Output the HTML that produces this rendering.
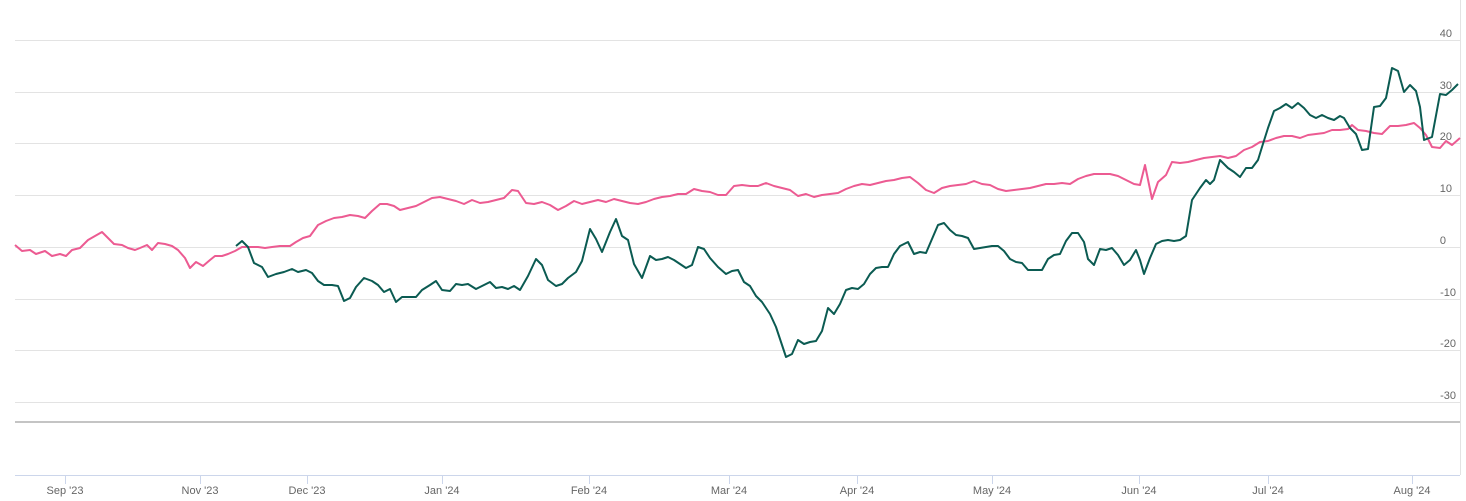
<!DOCTYPE html><html><head><style>body{margin:0;background:#fff}svg{display:block;font-family:"Liberation Sans",sans-serif}</style></head><body>
<svg width="1466" height="501" viewBox="0 0 1466 501">
<g stroke="#e3e3e3" stroke-width="1">
<line x1="15" x2="1460" y1="40.5" y2="40.5"/><line x1="15" x2="1460" y1="92.5" y2="92.5"/><line x1="15" x2="1460" y1="143.5" y2="143.5"/><line x1="15" x2="1460" y1="195.5" y2="195.5"/><line x1="15" x2="1460" y1="247.5" y2="247.5"/><line x1="15" x2="1460" y1="299.5" y2="299.5"/><line x1="15" x2="1460" y1="350.5" y2="350.5"/><line x1="15" x2="1460" y1="402.5" y2="402.5"/>
<line x1="1460.5" x2="1460.5" y1="0" y2="475"/>
</g>
<line x1="15" x2="1460" y1="422" y2="422" stroke="#c4c4c4" stroke-width="2"/>
<line x1="15" x2="1460" y1="475.5" y2="475.5" stroke="#ccd6eb"/>
<g stroke="#ccd6eb"><line x1="65.5" x2="65.5" y1="475" y2="484"/><line x1="200.5" x2="200.5" y1="475" y2="484"/><line x1="307.5" x2="307.5" y1="475" y2="484"/><line x1="442.5" x2="442.5" y1="475" y2="484"/><line x1="589.5" x2="589.5" y1="475" y2="484"/><line x1="729.5" x2="729.5" y1="475" y2="484"/><line x1="857.5" x2="857.5" y1="475" y2="484"/><line x1="992.5" x2="992.5" y1="475" y2="484"/><line x1="1139.5" x2="1139.5" y1="475" y2="484"/><line x1="1268.5" x2="1268.5" y1="475" y2="484"/><line x1="1412.5" x2="1412.5" y1="475" y2="484"/></g>
<g fill="#666" font-size="11" text-anchor="middle"><text x="65" y="494">Sep '23</text><text x="200" y="494">Nov '23</text><text x="307" y="494">Dec '23</text><text x="442" y="494">Jan '24</text><text x="589" y="494">Feb '24</text><text x="729" y="494">Mar '24</text><text x="857" y="494">Apr '24</text><text x="992" y="494">May '24</text><text x="1139" y="494">Jun '24</text><text x="1268" y="494">Jul '24</text><text x="1412" y="494">Aug '24</text></g>
<g fill="#666" font-size="11" text-anchor="end"><text x="1452" y="37">40</text><text x="1452" y="89">30</text><text x="1452" y="140">20</text><text x="1452" y="192">10</text><text x="1446" y="244">0</text><text x="1456" y="296">-10</text><text x="1456" y="347">-20</text><text x="1456" y="399">-30</text></g>
<polyline fill="none" stroke="#ec5b92" stroke-width="2" stroke-linejoin="round" points="15,245 22,251 30,250 36,254 45,251 52,256 60,254 66,256 72,250 80,248 88,240 95,236 102,232 108,238 114,244 122,245 128,248 135,250 140,248 147,245 152,250 158,243 165,244 172,246 178,250 185,258 190,268 196,262 203,266 210,260 215,256 222,256 228,254 235,251 242,247 250,247 258,247 265,248 272,247 280,246 290,246 296,242 303,238 310,236 318,225 326,221 334,218 342,217 350,215 358,216 365,218 372,211 380,204 387,204 394,206 400,210 408,208 416,206 424,202 432,198 440,197 448,199 456,201 464,204 472,200 480,203 488,202 496,200 504,198 512,190 518,191 526,203 534,204 542,202 550,205 558,210 566,206 574,201 582,204 590,202 598,200 606,202 614,199 622,201 630,203 638,204 646,202 654,199 662,197 670,196 678,194 686,194 694,189 702,191 710,192 718,195 726,195 734,186 742,185 750,186 758,186 766,183 774,186 782,188 790,190 798,196 806,194 814,197 822,195 830,194 838,193 846,189 854,186 862,184 870,185 878,183 886,181 894,180 902,178 910,177 918,183 926,190 934,193 942,188 950,186 958,185 966,184 974,181 982,184 990,185 998,189 1006,191 1014,190 1022,189 1030,188 1038,186 1046,184 1054,184 1062,183 1070,184 1078,179 1086,176 1094,174 1102,174 1110,174 1118,176 1126,180 1134,184 1140,185 1145,165 1152,199 1158,182 1166,175 1172,162 1180,163 1188,162 1196,160 1204,158 1212,157 1220,156 1228,158 1236,156 1244,150 1252,147 1260,142 1268,141 1276,138 1284,136 1292,136 1300,138 1308,135 1316,134 1324,133 1332,130 1340,130 1348,129 1352,125 1358,130 1366,131 1374,133 1382,134 1390,126 1398,126 1406,125 1414,123 1420,128 1426,135 1432,147 1440,148 1446,141 1452,145 1460,138"/>
<polyline fill="none" stroke="#0b5b52" stroke-width="2" stroke-linejoin="round" points="236,246 242,241 248,247 254,263 262,267 268,277 276,274 284,272 292,269 298,272 306,270 312,273 318,281 324,285 332,285 338,286 344,301 350,298 356,287 364,278 372,281 378,285 384,292 390,289 396,302 402,297 410,297 416,297 422,290 430,285 436,281 442,290 450,291 456,284 462,285 468,284 476,289 482,286 490,282 496,288 502,287 508,289 514,286 520,290 528,276 536,259 542,265 548,280 556,286 562,284 568,278 576,272 582,261 590,229 596,239 602,252 610,232 616,219 622,236 628,240 634,264 642,278 650,256 656,260 662,259 668,257 674,260 680,264 686,268 692,265 698,247 704,249 710,258 718,267 726,274 732,271 738,270 744,282 750,286 756,296 762,302 770,314 776,327 782,345 786,357 792,354 798,340 804,344 810,342 816,341 822,331 828,308 834,314 840,304 846,290 852,288 858,289 864,284 870,274 876,268 882,267 888,267 894,254 900,246 908,242 914,254 920,252 926,253 932,239 938,225 944,223 950,230 956,235 962,236 968,238 974,249 980,248 986,247 992,246 998,246 1004,251 1010,259 1016,262 1022,263 1028,270 1036,270 1042,270 1048,259 1054,255 1060,254 1066,241 1072,233 1078,233 1084,242 1088,259 1094,265 1100,249 1106,250 1112,248 1118,255 1124,265 1130,260 1136,250 1140,260 1144,274 1150,258 1156,244 1162,241 1168,240 1174,241 1180,240 1186,236 1192,200 1200,188 1206,180 1210,184 1214,180 1220,160 1228,168 1234,172 1240,177 1246,168 1252,168 1258,160 1262,147 1268,128 1274,111 1280,108 1286,104 1292,108 1298,103 1304,108 1310,115 1316,118 1322,115 1328,118 1334,120 1340,116 1344,118 1350,128 1356,134 1362,150 1368,149 1374,107 1380,106 1386,98 1392,68 1398,71 1404,92 1410,85 1416,91 1420,107 1424,140 1432,137 1440,94 1446,95 1452,90 1458,84"/>
</svg></body></html>
